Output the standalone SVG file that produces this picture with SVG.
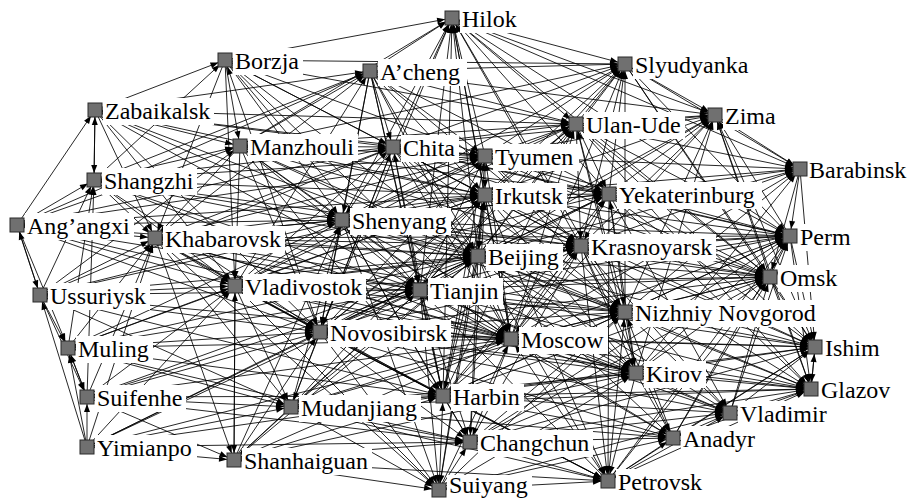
<svg xmlns="http://www.w3.org/2000/svg" width="907" height="499" viewBox="0 0 907 499">
<style>
.edges path{fill:none;stroke:#000;stroke-width:.85;marker-end:url(#ah)}
.lb{fill:#fff}
.lt{font-family:"Liberation Serif","Times New Roman",serif;font-size:24px;fill:#000}
.sq{fill:#707070;stroke:#2a2a2a;stroke-width:1}
</style>
<defs>
<marker id="ah" markerUnits="userSpaceOnUse" markerWidth="20" markerHeight="10" refX="15" refY="3" orient="auto" overflow="visible"><path d="M0 0L8 3L0 6z" fill="#000"/></marker>
</defs>
<rect width="907" height="499" fill="#fff"/>
<g class="edges">
<path d="M225 60L452 18"/><path d="M370 71L452 18"/><path d="M393 147L452 18"/><path d="M485 156L452 18"/><path d="M485 195L452 18"/><path d="M478 256L452 18"/><path d="M420 290L452 18"/><path d="M511 339L452 18"/><path d="M342 220L452 18"/><path d="M625 312L452 18"/><path d="M443 396L452 18"/><path d="M581 246L452 18"/><path d="M240 146L452 18"/><path d="M320 332L452 18"/>
<path d="M452 18L625 64"/><path d="M452 18L715 115"/><path d="M452 18L800 169"/><path d="M452 18L609 194"/><path d="M452 18L576 124"/><path d="M452 18L770 277"/><path d="M452 18L790 236"/>
<path d="M95 110L225 60"/><path d="M225 60L240 146"/><path d="M225 60L393 147"/><path d="M225 60L342 220"/><path d="M225 60L420 290"/><path d="M225 60L478 256"/><path d="M225 60L485 195"/><path d="M225 60L235 286"/><path d="M225 60L155 238"/><path d="M94 180L225 60"/><path d="M225 60L625 64"/><path d="M225 60L576 124"/><path d="M320 332L225 60"/><path d="M225 60L485 156"/><path d="M225 60L511 339"/>
<path d="M370 71L393 147"/><path d="M370 71L342 220"/><path d="M370 71L240 146"/><path d="M370 71L420 290"/><path d="M370 71L478 256"/><path d="M370 71L625 64"/><path d="M370 71L715 115"/><path d="M370 71L511 339"/><path d="M370 71L443 396"/><path d="M370 71L320 332"/><path d="M95 110L370 71"/><path d="M94 180L370 71"/><path d="M155 238L370 71"/><path d="M235 286L370 71"/><path d="M17 225L370 71"/><path d="M370 71L485 195"/><path d="M370 71L485 156"/><path d="M370 71L576 124"/><path d="M370 71L609 194"/><path d="M370 71L581 246"/>
<path d="M393 147L625 64"/><path d="M485 156L625 64"/><path d="M485 195L625 64"/><path d="M576 124L625 64"/><path d="M478 256L625 64"/><path d="M581 246L625 64"/><path d="M609 194L625 64"/><path d="M342 220L625 64"/><path d="M240 146L625 64"/><path d="M420 290L625 64"/><path d="M625 312L625 64"/><path d="M511 339L625 64"/><path d="M625 64L715 115"/><path d="M625 64L800 169"/><path d="M625 64L790 236"/><path d="M625 64L770 277"/><path d="M625 64L815 347"/>
<path d="M95 110L94 180"/><path d="M94 180L95 110"/><path d="M17 225L95 110"/><path d="M95 110L240 146"/><path d="M95 110L393 147"/><path d="M95 110L342 220"/><path d="M95 110L155 238"/><path d="M95 110L235 286"/><path d="M95 110L420 290"/><path d="M95 110L478 256"/><path d="M95 110L320 332"/><path d="M95 110L485 195"/><path d="M95 110L485 156"/><path d="M95 110L576 124"/>
<path d="M576 124L715 115"/><path d="M609 194L715 115"/><path d="M581 246L715 115"/><path d="M485 195L715 115"/><path d="M485 156L715 115"/><path d="M393 147L715 115"/><path d="M625 312L715 115"/><path d="M478 256L715 115"/><path d="M790 236L715 115"/><path d="M770 277L715 115"/><path d="M715 115L800 169"/><path d="M715 115L815 347"/><path d="M511 339L715 115"/><path d="M636 373L715 115"/><path d="M320 332L715 115"/><path d="M715 115L811 389"/>
<path d="M576 124L485 156"/><path d="M576 124L485 195"/><path d="M576 124L609 194"/><path d="M576 124L581 246"/><path d="M576 124L800 169"/><path d="M576 124L790 236"/><path d="M576 124L770 277"/><path d="M393 147L576 124"/><path d="M240 146L576 124"/><path d="M342 220L576 124"/><path d="M478 256L576 124"/><path d="M420 290L576 124"/><path d="M625 312L576 124"/><path d="M511 339L576 124"/><path d="M636 373L576 124"/><path d="M576 124L815 347"/><path d="M576 124L811 389"/><path d="M320 332L576 124"/><path d="M443 396L576 124"/><path d="M235 286L576 124"/>
<path d="M240 146L393 147"/><path d="M240 146L342 220"/><path d="M240 146L420 290"/><path d="M240 146L235 286"/><path d="M240 146L155 238"/><path d="M240 146L320 332"/><path d="M240 146L478 256"/><path d="M240 146L485 195"/><path d="M240 146L485 156"/><path d="M94 180L240 146"/><path d="M17 225L240 146"/><path d="M40 295L240 146"/><path d="M240 146L511 339"/><path d="M240 146L581 246"/><path d="M240 146L625 312"/><path d="M240 146L609 194"/><path d="M240 146L443 396"/>
<path d="M393 147L485 156"/><path d="M393 147L485 195"/><path d="M393 147L342 220"/><path d="M393 147L478 256"/><path d="M393 147L420 290"/><path d="M393 147L320 332"/><path d="M393 147L511 339"/><path d="M393 147L609 194"/><path d="M393 147L581 246"/><path d="M155 238L393 147"/><path d="M94 180L393 147"/><path d="M235 286L393 147"/><path d="M443 396L393 147"/><path d="M291 407L393 147"/><path d="M393 147L625 312"/><path d="M393 147L790 236"/><path d="M393 147L770 277"/><path d="M393 147L636 373"/><path d="M40 295L393 147"/>
<path d="M485 156L485 195"/><path d="M485 156L609 194"/><path d="M485 156L581 246"/><path d="M485 156L478 256"/><path d="M485 156L800 169"/><path d="M485 156L790 236"/><path d="M342 220L485 156"/><path d="M155 238L485 156"/><path d="M420 290L485 156"/><path d="M320 332L485 156"/><path d="M511 339L485 156"/><path d="M485 156L625 312"/><path d="M485 156L770 277"/><path d="M235 286L485 156"/><path d="M443 396L485 156"/><path d="M17 225L485 156"/>
<path d="M609 194L800 169"/><path d="M581 246L800 169"/><path d="M485 195L800 169"/><path d="M625 312L800 169"/><path d="M478 256L800 169"/><path d="M800 169L790 236"/><path d="M800 169L770 277"/><path d="M800 169L815 347"/><path d="M636 373L800 169"/><path d="M511 339L800 169"/>
<path d="M17 225L94 180"/><path d="M94 180L155 238"/><path d="M94 180L342 220"/><path d="M94 180L235 286"/><path d="M94 180L420 290"/><path d="M94 180L478 256"/><path d="M94 180L320 332"/><path d="M94 180L485 195"/><path d="M94 180L485 156"/><path d="M40 295L94 180"/><path d="M68 348L94 180"/><path d="M87 397L94 180"/><path d="M94 180L581 246"/><path d="M94 180L511 339"/>
<path d="M485 195L609 194"/><path d="M485 195L581 246"/><path d="M485 195L478 256"/><path d="M485 195L790 236"/><path d="M485 195L770 277"/><path d="M485 195L625 312"/><path d="M485 195L511 339"/><path d="M342 220L485 195"/><path d="M155 238L485 195"/><path d="M420 290L485 195"/><path d="M320 332L485 195"/><path d="M443 396L485 195"/><path d="M235 286L485 195"/><path d="M485 195L636 373"/><path d="M485 195L815 347"/><path d="M40 295L485 195"/><path d="M17 225L485 195"/>
<path d="M609 194L581 246"/><path d="M609 194L790 236"/><path d="M609 194L770 277"/><path d="M609 194L625 312"/><path d="M609 194L815 347"/><path d="M609 194L811 389"/><path d="M478 256L609 194"/><path d="M420 290L609 194"/><path d="M342 220L609 194"/><path d="M511 339L609 194"/><path d="M636 373L609 194"/><path d="M155 238L609 194"/><path d="M235 286L609 194"/><path d="M320 332L609 194"/><path d="M443 396L609 194"/>
<path d="M17 225L40 295"/><path d="M17 225L155 238"/><path d="M17 225L342 220"/><path d="M17 225L235 286"/><path d="M17 225L420 290"/><path d="M17 225L320 332"/><path d="M17 225L478 256"/><path d="M17 225L68 348"/><path d="M17 225L511 339"/><path d="M40 295L17 225"/><path d="M17 225L393 147"/>
<path d="M342 220L478 256"/><path d="M342 220L420 290"/><path d="M342 220L581 246"/><path d="M342 220L320 332"/><path d="M342 220L511 339"/><path d="M342 220L443 396"/><path d="M342 220L235 286"/><path d="M342 220L155 238"/><path d="M342 220L790 236"/><path d="M291 407L342 220"/><path d="M40 295L342 220"/><path d="M342 220L625 312"/><path d="M342 220L636 373"/><path d="M342 220L770 277"/><path d="M342 220L470 442"/><path d="M234 460L342 220"/><path d="M68 348L342 220"/>
<path d="M155 238L235 286"/><path d="M155 238L420 290"/><path d="M155 238L320 332"/><path d="M155 238L478 256"/><path d="M155 238L581 246"/><path d="M155 238L511 339"/><path d="M155 238L443 396"/><path d="M40 295L155 238"/><path d="M68 348L155 238"/><path d="M87 397L155 238"/><path d="M87 447L155 238"/><path d="M155 238L291 407"/><path d="M155 238L636 373"/><path d="M155 238L625 312"/><path d="M155 238L790 236"/>
<path d="M581 246L790 236"/><path d="M625 312L790 236"/><path d="M478 256L790 236"/><path d="M770 277L790 236"/><path d="M511 339L790 236"/><path d="M636 373L790 236"/><path d="M420 290L790 236"/><path d="M790 236L815 347"/><path d="M790 236L811 389"/><path d="M320 332L790 236"/><path d="M443 396L790 236"/><path d="M470 442L790 236"/><path d="M608 481L790 236"/><path d="M673 438L790 236"/><path d="M730 413L790 236"/>
<path d="M478 256L420 290"/><path d="M478 256L581 246"/><path d="M478 256L625 312"/><path d="M478 256L511 339"/><path d="M478 256L770 277"/><path d="M478 256L320 332"/><path d="M478 256L443 396"/><path d="M478 256L636 373"/><path d="M235 286L478 256"/><path d="M40 295L478 256"/><path d="M291 407L478 256"/><path d="M478 256L811 389"/><path d="M478 256L815 347"/><path d="M478 256L470 442"/><path d="M87 397L478 256"/><path d="M234 460L478 256"/><path d="M87 447L478 256"/><path d="M68 348L478 256"/>
<path d="M581 246L625 312"/><path d="M581 246L770 277"/><path d="M581 246L511 339"/><path d="M581 246L815 347"/><path d="M581 246L636 373"/><path d="M581 246L420 290"/><path d="M320 332L581 246"/><path d="M443 396L581 246"/><path d="M235 286L581 246"/><path d="M581 246L811 389"/><path d="M291 407L581 246"/><path d="M470 442L581 246"/>
<path d="M625 312L770 277"/><path d="M511 339L770 277"/><path d="M636 373L770 277"/><path d="M420 290L770 277"/><path d="M320 332L770 277"/><path d="M770 277L815 347"/><path d="M770 277L811 389"/><path d="M443 396L770 277"/><path d="M730 413L770 277"/><path d="M235 286L770 277"/><path d="M470 442L770 277"/><path d="M608 481L770 277"/><path d="M673 438L770 277"/>
<path d="M40 295L235 286"/><path d="M40 295L68 348"/><path d="M40 295L420 290"/><path d="M40 295L320 332"/><path d="M40 295L87 397"/><path d="M87 447L40 295"/><path d="M40 295L291 407"/><path d="M40 295L443 396"/><path d="M40 295L511 339"/>
<path d="M235 286L420 290"/><path d="M235 286L320 332"/><path d="M235 286L234 460"/><path d="M234 460L235 286"/><path d="M235 286L511 339"/><path d="M235 286L443 396"/><path d="M235 286L291 407"/><path d="M68 348L235 286"/><path d="M87 397L235 286"/><path d="M87 447L235 286"/><path d="M235 286L625 312"/><path d="M235 286L636 373"/>
<path d="M420 290L320 332"/><path d="M420 290L511 339"/><path d="M420 290L625 312"/><path d="M420 290L443 396"/><path d="M420 290L470 442"/><path d="M420 290L636 373"/><path d="M291 407L420 290"/><path d="M68 348L420 290"/><path d="M87 397L420 290"/>
<path d="M625 312L511 339"/><path d="M625 312L815 347"/><path d="M625 312L636 373"/><path d="M625 312L811 389"/><path d="M625 312L730 413"/><path d="M320 332L625 312"/><path d="M443 396L625 312"/><path d="M673 438L625 312"/><path d="M608 481L625 312"/><path d="M470 442L625 312"/><path d="M291 407L625 312"/><path d="M439 490L625 312"/>
<path d="M320 332L511 339"/><path d="M320 332L443 396"/><path d="M320 332L291 407"/><path d="M320 332L470 442"/><path d="M320 332L636 373"/><path d="M68 348L320 332"/><path d="M87 397L320 332"/><path d="M87 447L320 332"/><path d="M234 460L320 332"/><path d="M320 332L439 490"/>
<path d="M511 339L443 396"/><path d="M511 339L636 373"/><path d="M511 339L815 347"/><path d="M511 339L811 389"/><path d="M511 339L470 442"/><path d="M511 339L730 413"/><path d="M291 407L511 339"/><path d="M673 438L511 339"/><path d="M608 481L511 339"/><path d="M439 490L511 339"/><path d="M68 348L511 339"/><path d="M87 447L511 339"/>
<path d="M68 348L87 397"/><path d="M87 397L68 348"/><path d="M87 447L68 348"/><path d="M68 348L443 396"/><path d="M68 348L291 407"/><path d="M68 348L470 442"/><path d="M68 348L485 195"/>
<path d="M815 347L811 389"/><path d="M811 389L815 347"/><path d="M636 373L815 347"/><path d="M730 413L815 347"/><path d="M673 438L815 347"/><path d="M443 396L815 347"/><path d="M420 290L815 347"/><path d="M320 332L815 347"/><path d="M470 442L815 347"/><path d="M608 481L815 347"/>
<path d="M636 373L811 389"/><path d="M636 373L730 413"/><path d="M636 373L673 438"/><path d="M636 373L608 481"/><path d="M443 396L636 373"/><path d="M470 442L636 373"/><path d="M320 332L811 389"/><path d="M439 490L636 373"/><path d="M234 460L636 373"/>
<path d="M730 413L811 389"/><path d="M673 438L811 389"/><path d="M443 396L811 389"/><path d="M470 442L811 389"/><path d="M420 290L811 389"/><path d="M608 481L811 389"/><path d="M291 407L811 389"/>
<path d="M87 447L87 397"/><path d="M87 397L443 396"/><path d="M87 397L291 407"/><path d="M87 397L470 442"/><path d="M87 397L234 460"/><path d="M87 397L511 339"/>
<path d="M443 396L291 407"/><path d="M443 396L470 442"/><path d="M443 396L730 413"/><path d="M443 396L673 438"/><path d="M439 490L443 396"/><path d="M234 460L443 396"/><path d="M87 447L443 396"/><path d="M608 481L443 396"/>
<path d="M291 407L470 442"/><path d="M291 407L234 460"/><path d="M87 447L291 407"/><path d="M291 407L673 438"/><path d="M291 407L636 373"/><path d="M291 407L485 195"/>
<path d="M730 413L673 438"/><path d="M470 442L730 413"/><path d="M608 481L730 413"/><path d="M439 490L730 413"/>
<path d="M470 442L673 438"/><path d="M470 442L608 481"/><path d="M439 490L470 442"/><path d="M234 460L470 442"/><path d="M87 447L470 442"/><path d="M470 442L485 195"/>
<path d="M608 481L673 438"/><path d="M439 490L673 438"/><path d="M87 447L234 460"/><path d="M87 447L420 290"/>
<path d="M234 460L439 490"/><path d="M234 460L608 481"/><path d="M439 490L608 481"/><path d="M608 481L420 290"/><path d="M291 407L439 490"/><path d="M420 290L439 490"/><path d="M291 407L608 481"/><path d="M320 332L608 481"/><path d="M581 246L608 481"/><path d="M478 256L608 481"/><path d="M439 490L485 195"/>
<path d="M342 220L439 490"/><path d="M235 286L439 490"/><path d="M155 238L439 490"/><path d="M235 286L608 481"/><path d="M478 256L439 490"/>
<path d="M155 238L234 460"/><path d="M420 290L234 460"/><path d="M511 339L234 460"/><path d="M485 195L608 481"/><path d="M609 194L608 481"/>
<path d="M320 332L673 438"/><path d="M420 290L673 438"/><path d="M478 256L673 438"/><path d="M581 246L673 438"/>
<path d="M320 332L730 413"/><path d="M420 290L730 413"/><path d="M581 246L730 413"/><path d="M609 194L730 413"/><path d="M478 256L730 413"/>
</g>
<g id="hilok"><rect class="lb" x="460" y="6" width="61" height="27"/><text class="lt" x="462" y="27">Hilok</text><rect class="sq" x="445" y="11" width="14" height="14"/></g>
<g id="borzja"><rect class="lb" x="233" y="48" width="70" height="27"/><text class="lt" x="235" y="69">Borzja</text><rect class="sq" x="218" y="53" width="14" height="14"/></g>
<g id="acheng"><rect class="lb" x="378" y="59" width="89" height="27"/><text class="lt" x="380" y="80">A’cheng</text><rect class="sq" x="363" y="64" width="14" height="14"/></g>
<g id="slyudyanka"><rect class="lb" x="633" y="52" width="119" height="27"/><text class="lt" x="635" y="73">Slyudyanka</text><rect class="sq" x="618" y="57" width="14" height="14"/></g>
<g id="zabaikalsk"><rect class="lb" x="103" y="98" width="111" height="27"/><text class="lt" x="105" y="119">Zabaikalsk</text><rect class="sq" x="88" y="103" width="14" height="14"/></g>
<g id="zima"><rect class="lb" x="723" y="103" width="57" height="27"/><text class="lt" x="725" y="124">Zima</text><rect class="sq" x="708" y="108" width="14" height="14"/></g>
<g id="ulan-ude"><rect class="lb" x="584" y="112" width="101" height="27"/><text class="lt" x="586" y="133">Ulan-Ude</text><rect class="sq" x="569" y="117" width="14" height="14"/></g>
<g id="manzhouli"><rect class="lb" x="248" y="134" width="110" height="27"/><text class="lt" x="250" y="155">Manzhouli</text><rect class="sq" x="233" y="139" width="14" height="14"/></g>
<g id="chita"><rect class="lb" x="401" y="135" width="58" height="27"/><text class="lt" x="403" y="156">Chita</text><rect class="sq" x="386" y="140" width="14" height="14"/></g>
<g id="tyumen"><rect class="lb" x="493" y="144" width="86" height="27"/><text class="lt" x="495" y="165">Tyumen</text><rect class="sq" x="478" y="149" width="14" height="14"/></g>
<g id="barabinsk"><rect class="lb" x="808" y="157" width="99" height="27"/><text class="lt" x="809" y="178">Barabinsk</text><rect class="sq" x="793" y="162" width="14" height="14"/></g>
<g id="shangzhi"><rect class="lb" x="102" y="168" width="95" height="27"/><text class="lt" x="104" y="189">Shangzhi</text><rect class="sq" x="87" y="173" width="14" height="14"/></g>
<g id="irkutsk"><rect class="lb" x="493" y="183" width="74" height="27"/><text class="lt" x="495" y="204">Irkutsk</text><rect class="sq" x="478" y="188" width="14" height="14"/></g>
<g id="yekaterinburg"><rect class="lb" x="617" y="182" width="145" height="27"/><text class="lt" x="619" y="203">Yekaterinburg</text><rect class="sq" x="602" y="187" width="14" height="14"/></g>
<g id="angangxi"><rect class="lb" x="25" y="213" width="109" height="27"/><text class="lt" x="27" y="234">Ang’angxi</text><rect class="sq" x="10" y="218" width="14" height="14"/></g>
<g id="shenyang"><rect class="lb" x="350" y="208" width="101" height="27"/><text class="lt" x="352" y="229">Shenyang</text><rect class="sq" x="335" y="213" width="14" height="14"/></g>
<g id="khabarovsk"><rect class="lb" x="163" y="226" width="122" height="27"/><text class="lt" x="165" y="247">Khabarovsk</text><rect class="sq" x="148" y="231" width="14" height="14"/></g>
<g id="perm"><rect class="lb" x="798" y="224" width="57" height="27"/><text class="lt" x="800" y="245">Perm</text><rect class="sq" x="783" y="229" width="14" height="14"/></g>
<g id="beijing"><rect class="lb" x="486" y="244" width="77" height="27"/><text class="lt" x="488" y="265">Beijing</text><rect class="sq" x="471" y="249" width="14" height="14"/></g>
<g id="krasnoyarsk"><rect class="lb" x="589" y="234" width="127" height="27"/><text class="lt" x="591" y="255">Krasnoyarsk</text><rect class="sq" x="574" y="239" width="14" height="14"/></g>
<g id="omsk"><rect class="lb" x="778" y="265" width="63" height="27"/><text class="lt" x="780" y="286">Omsk</text><rect class="sq" x="763" y="270" width="14" height="14"/></g>
<g id="ussuriysk"><rect class="lb" x="48" y="283" width="102" height="27"/><text class="lt" x="50" y="304">Ussuriysk</text><rect class="sq" x="33" y="288" width="14" height="14"/></g>
<g id="vladivostok"><rect class="lb" x="243" y="274" width="123" height="27"/><text class="lt" x="245" y="295">Vladivostok</text><rect class="sq" x="228" y="279" width="14" height="14"/></g>
<g id="tianjin"><rect class="lb" x="428" y="278" width="75" height="27"/><text class="lt" x="430" y="299">Tianjin</text><rect class="sq" x="413" y="283" width="14" height="14"/></g>
<g id="nizhniy-novgorod"><rect class="lb" x="633" y="300" width="185" height="27"/><text class="lt" x="635" y="321">Nizhniy Novgorod</text><rect class="sq" x="618" y="305" width="14" height="14"/></g>
<g id="novosibirsk"><rect class="lb" x="328" y="320" width="123" height="27"/><text class="lt" x="330" y="341">Novosibirsk</text><rect class="sq" x="313" y="325" width="14" height="14"/></g>
<g id="moscow"><rect class="lb" x="519" y="327" width="89" height="27"/><text class="lt" x="521" y="348">Moscow</text><rect class="sq" x="504" y="332" width="14" height="14"/></g>
<g id="muling"><rect class="lb" x="76" y="336" width="77" height="27"/><text class="lt" x="78" y="357">Muling</text><rect class="sq" x="61" y="341" width="14" height="14"/></g>
<g id="ishim"><rect class="lb" x="823" y="335" width="61" height="27"/><text class="lt" x="825" y="356">Ishim</text><rect class="sq" x="808" y="340" width="14" height="14"/></g>
<g id="kirov"><rect class="lb" x="644" y="361" width="62" height="27"/><text class="lt" x="646" y="382">Kirov</text><rect class="sq" x="629" y="366" width="14" height="14"/></g>
<g id="glazov"><rect class="lb" x="819" y="377" width="75" height="27"/><text class="lt" x="821" y="398">Glazov</text><rect class="sq" x="804" y="382" width="14" height="14"/></g>
<g id="suifenhe"><rect class="lb" x="95" y="385" width="91" height="27"/><text class="lt" x="97" y="406">Suifenhe</text><rect class="sq" x="80" y="390" width="14" height="14"/></g>
<g id="harbin"><rect class="lb" x="451" y="384" width="73" height="27"/><text class="lt" x="453" y="405">Harbin</text><rect class="sq" x="436" y="389" width="14" height="14"/></g>
<g id="mudanjiang"><rect class="lb" x="299" y="395" width="122" height="27"/><text class="lt" x="301" y="416">Mudanjiang</text><rect class="sq" x="284" y="400" width="14" height="14"/></g>
<g id="vladimir"><rect class="lb" x="738" y="401" width="93" height="27"/><text class="lt" x="740" y="422">Vladimir</text><rect class="sq" x="723" y="406" width="14" height="14"/></g>
<g id="changchun"><rect class="lb" x="478" y="430" width="115" height="27"/><text class="lt" x="480" y="451">Changchun</text><rect class="sq" x="463" y="435" width="14" height="14"/></g>
<g id="anadyr"><rect class="lb" x="681" y="426" width="78" height="27"/><text class="lt" x="683" y="447">Anadyr</text><rect class="sq" x="666" y="431" width="14" height="14"/></g>
<g id="yimianpo"><rect class="lb" x="95" y="435" width="102" height="27"/><text class="lt" x="97" y="456">Yimianpo</text><rect class="sq" x="80" y="440" width="14" height="14"/></g>
<g id="shanhaiguan"><rect class="lb" x="242" y="448" width="130" height="27"/><text class="lt" x="244" y="469">Shanhaiguan</text><rect class="sq" x="227" y="453" width="14" height="14"/></g>
<g id="petrovsk"><rect class="lb" x="616" y="469" width="90" height="27"/><text class="lt" x="618" y="490">Petrovsk</text><rect class="sq" x="601" y="474" width="14" height="14"/></g>
<g id="suiyang"><rect class="lb" x="447" y="475" width="85" height="24"/><text class="lt" x="449" y="493">Suiyang</text><rect class="sq" x="432" y="483" width="14" height="14"/></g>
</svg>
